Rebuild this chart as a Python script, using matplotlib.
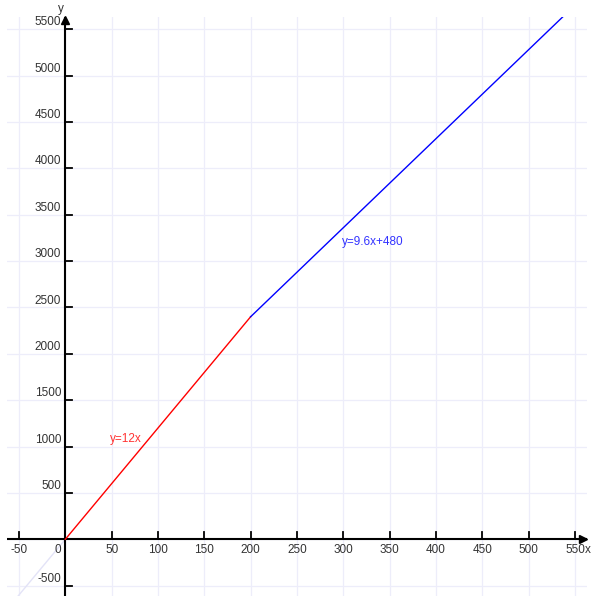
import matplotlib
matplotlib.use("Agg")
import matplotlib.pyplot as plt

# piecewise line: y=12x up to x=200, then y=9.6x+480
red_x = [0, 200]
red_y = [0, 2400]
blue_x = [200, 537]
blue_y = [2400, 5635]
# faint continuation below the origin
neg_x = [-51, 0]
neg_y = [-612, 0]

x_ticks = [-50, 50, 100, 150, 200, 250, 300, 350, 400, 450, 500, 550]
y_ticks = [-500, 500, 1000, 1500, 2000, 2500, 3000, 3500, 4000, 4500, 5000, 5500]

plt.rcParams['font.family'] = ['Liberation Sans', 'DejaVu Sans']

fig = plt.figure(figsize=(6.03, 5.96), dpi=100)
ax = fig.add_axes([7 / 603, 0, 580.3 / 603, 579 / 596])
ax.set_xlim(-62.9, 563.3)
ax.set_ylim(-611, 5632)
for s in ax.spines.values():
    s.set_visible(False)
ax.set_xticks([])
ax.set_yticks([])

grid_c = '#ededfa'
for gx in [-50, 0] + x_ticks[1:]:
    ax.axvline(gx, color=grid_c, lw=0.9, zorder=0)
for gy in [-500, 0] + y_ticks[1:]:
    ax.axhline(gy, color=grid_c, lw=0.9, zorder=0)

# axes through origin
ax.axhline(0, color='black', lw=1.5, zorder=2)
ax.axvline(0, color='black', lw=1.5, zorder=2)
ax.plot([559], [0], marker='>', color='black', ms=5.5, clip_on=False, zorder=3)
ax.plot([0], [5600], marker='^', color='black', ms=5.5, clip_on=False, zorder=3)

lab_c = '#333333'
fs = 8.5
for t in x_ticks:
    ax.plot([t, t], [0, 75], color='black', lw=1.3, zorder=2)
    ax.text(t, -45, str(t), ha='center', va='top', fontsize=fs, color=lab_c)
for t in y_ticks:
    ax.plot([0, 7], [t, t], color='black', lw=1.3, zorder=2)
    ax.text(-4.5, t + 10, str(t), ha='right', va='bottom', fontsize=fs, color=lab_c)
ax.text(-5, -45, '0', ha='right', va='top', fontsize=fs, color=lab_c)
ax.text(561, -45, 'x', ha='left', va='top', fontsize=fs, color=lab_c)
ax.text(-1.5, 5650, 'y', ha='right', va='bottom', fontsize=fs, color=lab_c, clip_on=False)

ax.plot(neg_x, neg_y, color='#e3e3f7', lw=1, zorder=1)
ax.plot(red_x, red_y, color='red', lw=1, zorder=4)
ax.plot(blue_x, blue_y, color='blue', lw=1, zorder=4)

ax.text(48.5, 1082, 'y=12x', color='#ff3333', fontsize=fs, ha='left', va='center')
ax.text(298.7, 3206, 'y=9.6x+480', color='#3333ff', fontsize=fs, ha='left', va='center')

fig.savefig('out.png', dpi=100)
